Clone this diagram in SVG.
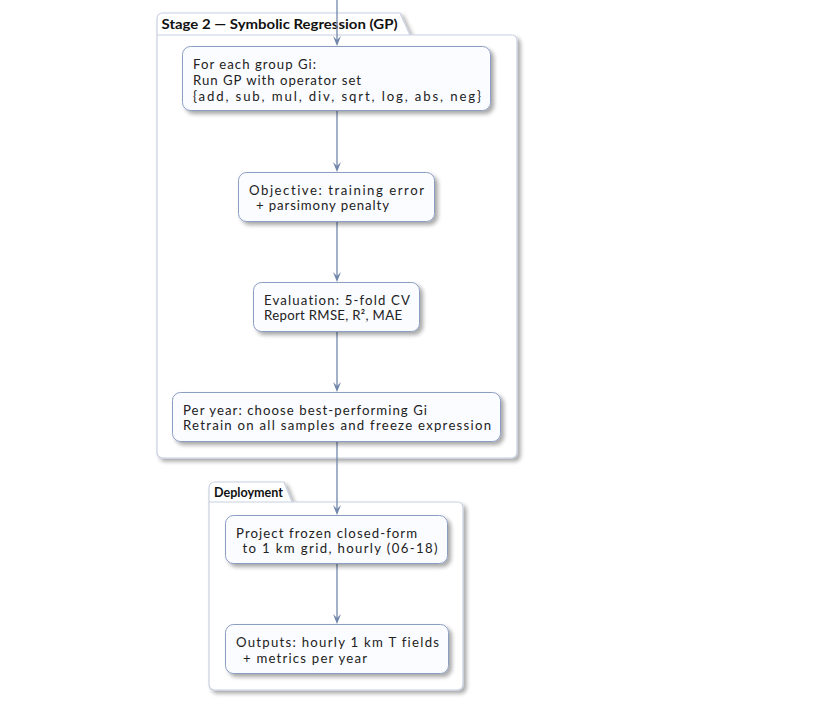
<svg xmlns="http://www.w3.org/2000/svg" width="826" height="702" viewBox="0 0 826 702">
<defs>
<filter id="sh" x="-10%" y="-10%" width="130%" height="140%">
<feGaussianBlur in="SourceAlpha" stdDeviation="2"/>
<feOffset dx="3" dy="3" result="b"/>
<feComponentTransfer><feFuncA type="linear" slope="0.35"/></feComponentTransfer>
<feMerge><feMergeNode/><feMergeNode in="SourceGraphic"/></feMerge>
</filter>
</defs>
<style>
.pkg{fill:#ffffff;stroke:#c8d0e0;stroke-width:1.2}
.node{fill:#fbfcff;stroke:#8c9dc2;stroke-width:1}
.t{font-family:Lato,"Noto Sans",sans-serif;font-size:13.2px;fill:#222;font-variant-ligatures:none}
.pt{font-family:Lato,"Noto Sans",sans-serif;font-size:13px;font-weight:bold;fill:#111;font-variant-ligatures:none}
.ln{stroke:#7187ab;stroke-width:1.3;fill:none}
.hd{fill:#7187ab;stroke:none}
</style>
<rect width="826" height="702" fill="#ffffff"/>
<g id="stage2">
<path class="pkg" filter="url(#sh)" d="M157,35 L157,19 Q157,13 163,13 L400,13 L410,35 L511,35 Q517,35 517,41 L517,452 Q517,458 511,458 L163,458 Q157,458 157,452 Z"/>
<path class="pkg" d="M157,35 L410,35"/>
<text class="pt" x="161.5" y="29" textLength="236" lengthAdjust="spacingAndGlyphs">Stage 2 — Symbolic Regression (GP)</text>
</g>
<g id="deployment">
<path class="pkg" filter="url(#sh)" d="M209,502 L209,488 Q209,482 215,482 L284,482 L292,502 L457,502 Q463,502 463,508 L463,684 Q463,690 457,690 L215,690 Q209,690 209,684 Z"/>
<path class="pkg" d="M209,502 L292,502"/>
<text class="pt" x="214" y="497" textLength="69" lengthAdjust="spacingAndGlyphs">Deployment</text>
</g>
<g id="connectors">
<path class="ln" d="M337,0 V44 M337,111 V170 M337,222 V280 M337,331 V390 M337,442 V513 M337,563 V622"/>
<path class="hd" d="M333,36 L337,46 L341,36 L337,40 Z"/>
<path class="hd" d="M333,162 L337,172 L341,162 L337,166 Z"/>
<path class="hd" d="M333,272 L337,282 L341,272 L337,276 Z"/>
<path class="hd" d="M333,382 L337,392 L341,382 L337,386 Z"/>
<path class="hd" d="M333,505 L337,515 L341,505 L337,509 Z"/>
<path class="hd" d="M333,614 L337,624 L341,614 L337,618 Z"/>
</g>
<g id="n1">
<rect class="node" filter="url(#sh)" x="182.5" y="46.5" width="308" height="64" rx="8"/>
<text class="t" x="193" y="69" textLength="123">For each group Gi:</text>
<text class="t" x="193" y="84.8" textLength="168">Run GP with operator set</text>
<text class="t" x="193" y="100.6" textLength="288">{add, sub, mul, div, sqrt, log, abs, neg}</text>
</g>
<g id="n2">
<rect class="node" filter="url(#sh)" x="238.5" y="172.5" width="196" height="49" rx="8"/>
<text class="t" x="249" y="194.5" textLength="175">Objective: training error</text>
<text class="t" x="256" y="210.3" textLength="133">+ parsimony penalty</text>
</g>
<g id="n3">
<rect class="node" filter="url(#sh)" x="253.5" y="282.5" width="166" height="49" rx="8"/>
<text class="t" x="264" y="304.5" textLength="146">Evaluation: 5-fold CV</text>
<text class="t" x="264" y="320.3" textLength="138">Report RMSE, R², MAE</text>
</g>
<g id="n4">
<rect class="node" filter="url(#sh)" x="172.5" y="392.5" width="328" height="49" rx="8"/>
<text class="t" x="183" y="414.5" textLength="244">Per year: choose best-performing Gi</text>
<text class="t" x="183" y="430.3" textLength="308">Retrain on all samples and freeze expression</text>
</g>
<g id="n5">
<rect class="node" filter="url(#sh)" x="225.5" y="515.5" width="222" height="48" rx="8"/>
<text class="t" x="236" y="537.5" textLength="181">Project frozen closed-form</text>
<text class="t" x="242.5" y="553.3" textLength="195">to 1 km grid, hourly (06-18)</text>
</g>
<g id="n6">
<rect class="node" filter="url(#sh)" x="225.5" y="624.5" width="223" height="49" rx="8"/>
<text class="t" x="236" y="647" textLength="203">Outputs: hourly 1 km T fields</text>
<text class="t" x="243" y="662.8" textLength="124">+ metrics per year</text>
</g>
</svg>
